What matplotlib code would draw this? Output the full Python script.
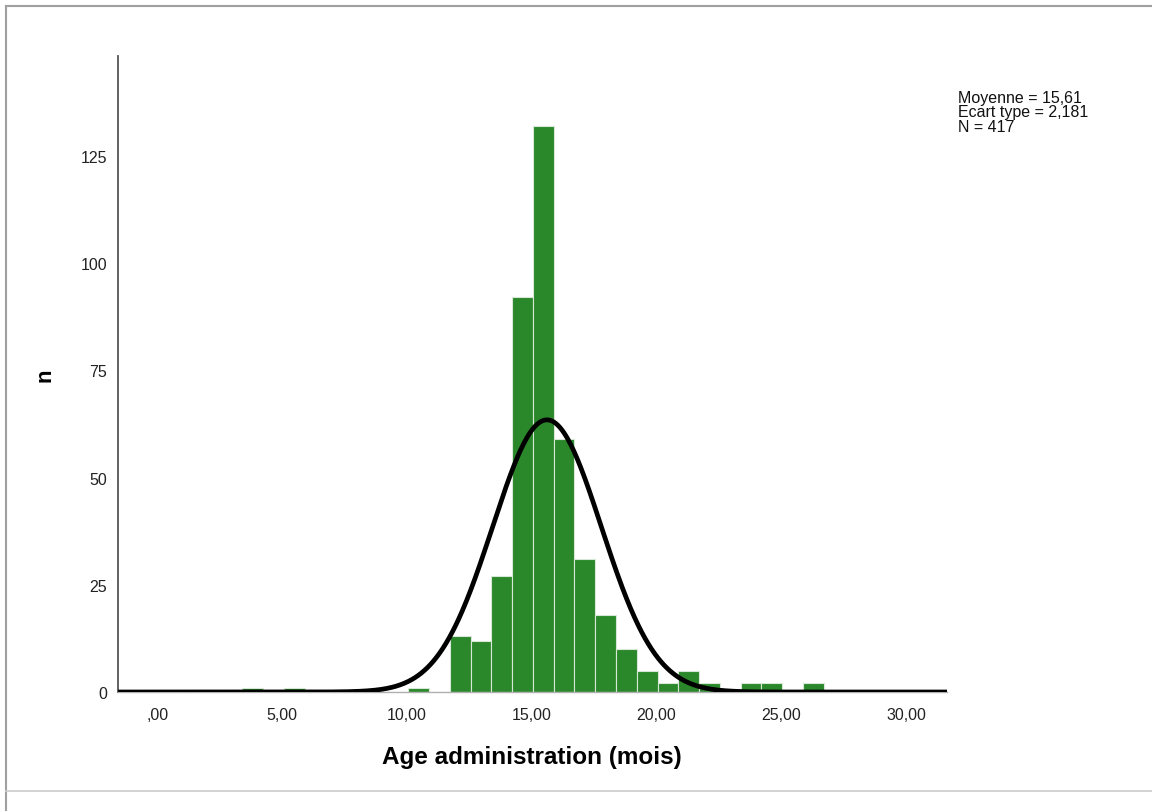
import numpy as np
import matplotlib
matplotlib.use("Agg")
import matplotlib.pyplot as plt
from matplotlib.lines import Line2D

plt.rcParams['font.family'] = ['Liberation Sans', 'DejaVu Sans']

# Histogram data
bin_start = 3.40
bin_width = 0.832
counts = [1, 0, 1, 0, 0, 0, 0, 0, 1, 0,
          13, 12, 27, 92, 132, 59, 31, 18, 10, 5, 2, 5, 2, 0, 2, 2, 0, 2]
mean = 15.61
sd = 2.181
n_total = 417
x_ticks = [0, 5, 10, 15, 20, 25, 30]
x_tick_labels = [",00", "5,00", "10,00", "15,00", "20,00", "25,00", "30,00"]
y_ticks = [0, 25, 50, 75, 100, 125]
x_label = "Age administration (mois)"
y_label = "n"
stats_lines = ["Moyenne = 15,61", "Ecart type = 2,181", "N = 417"]

fig = plt.figure(figsize=(11.52, 8.12), dpi=100)
ax = fig.add_axes([118/1152, 1 - 693/812, (947-118)/1152, (693-57)/812])

edges = bin_start + bin_width * np.arange(len(counts) + 1)
ax.bar(edges[:-1], counts, width=bin_width, align='edge',
       color='#2a872a', edgecolor='#d8e8d6', linewidth=0.8, zorder=2)

xlim = (-1.58, 31.64)
xs = np.linspace(xlim[0], xlim[1], 800)
ys = n_total * bin_width / (sd * np.sqrt(2 * np.pi)) * np.exp(-0.5 * ((xs - mean) / sd) ** 2)
ax.plot(xs, ys, color='black', linewidth=3.4, zorder=3, solid_capstyle='butt')

ax.set_xlim(*xlim)
ax.set_ylim(0, 148.3)
ax.set_xticks(x_ticks)
ax.set_xticklabels(x_tick_labels)
ax.set_yticks(y_ticks)
ax.tick_params(axis='both', length=0, labelsize=11.5, colors='#222222')
ax.tick_params(axis='x', pad=11)
ax.tick_params(axis='y', pad=8)

for s in ['top', 'right']:
    ax.spines[s].set_visible(False)
ax.spines['left'].set_color('#555555')
ax.spines['left'].set_linewidth(1.3)
ax.spines['bottom'].set_color('#b0b0b0')
ax.spines['bottom'].set_linewidth(1.0)

fig.text(532/1152, 1 - 758/812, x_label, ha='center', va='center',
         fontsize=17.5, fontweight='bold')
fig.text(45/1152, 1 - 375/812, y_label, ha='center', va='center',
         fontsize=16, fontweight='bold', rotation=90)

for i, line in enumerate(stats_lines):
    fig.text(958/1152, 1 - (98 + 15 * i)/812, line, ha='left', va='center',
             fontsize=11.5, color='#111111')

# SPSS-like output frame
fig.add_artist(Line2D([5.5/1152, 5.5/1152], [0, 1 - 6.5/812], color='#a0a0a0', linewidth=1.5))
fig.add_artist(Line2D([5.5/1152, 1], [1 - 6.5/812, 1 - 6.5/812], color='#a0a0a0', linewidth=1.5))
fig.add_artist(Line2D([5.5/1152, 1], [1 - 792/812, 1 - 792/812], color='#cccccc', linewidth=1.2))

fig.savefig('out.png', dpi=100)
